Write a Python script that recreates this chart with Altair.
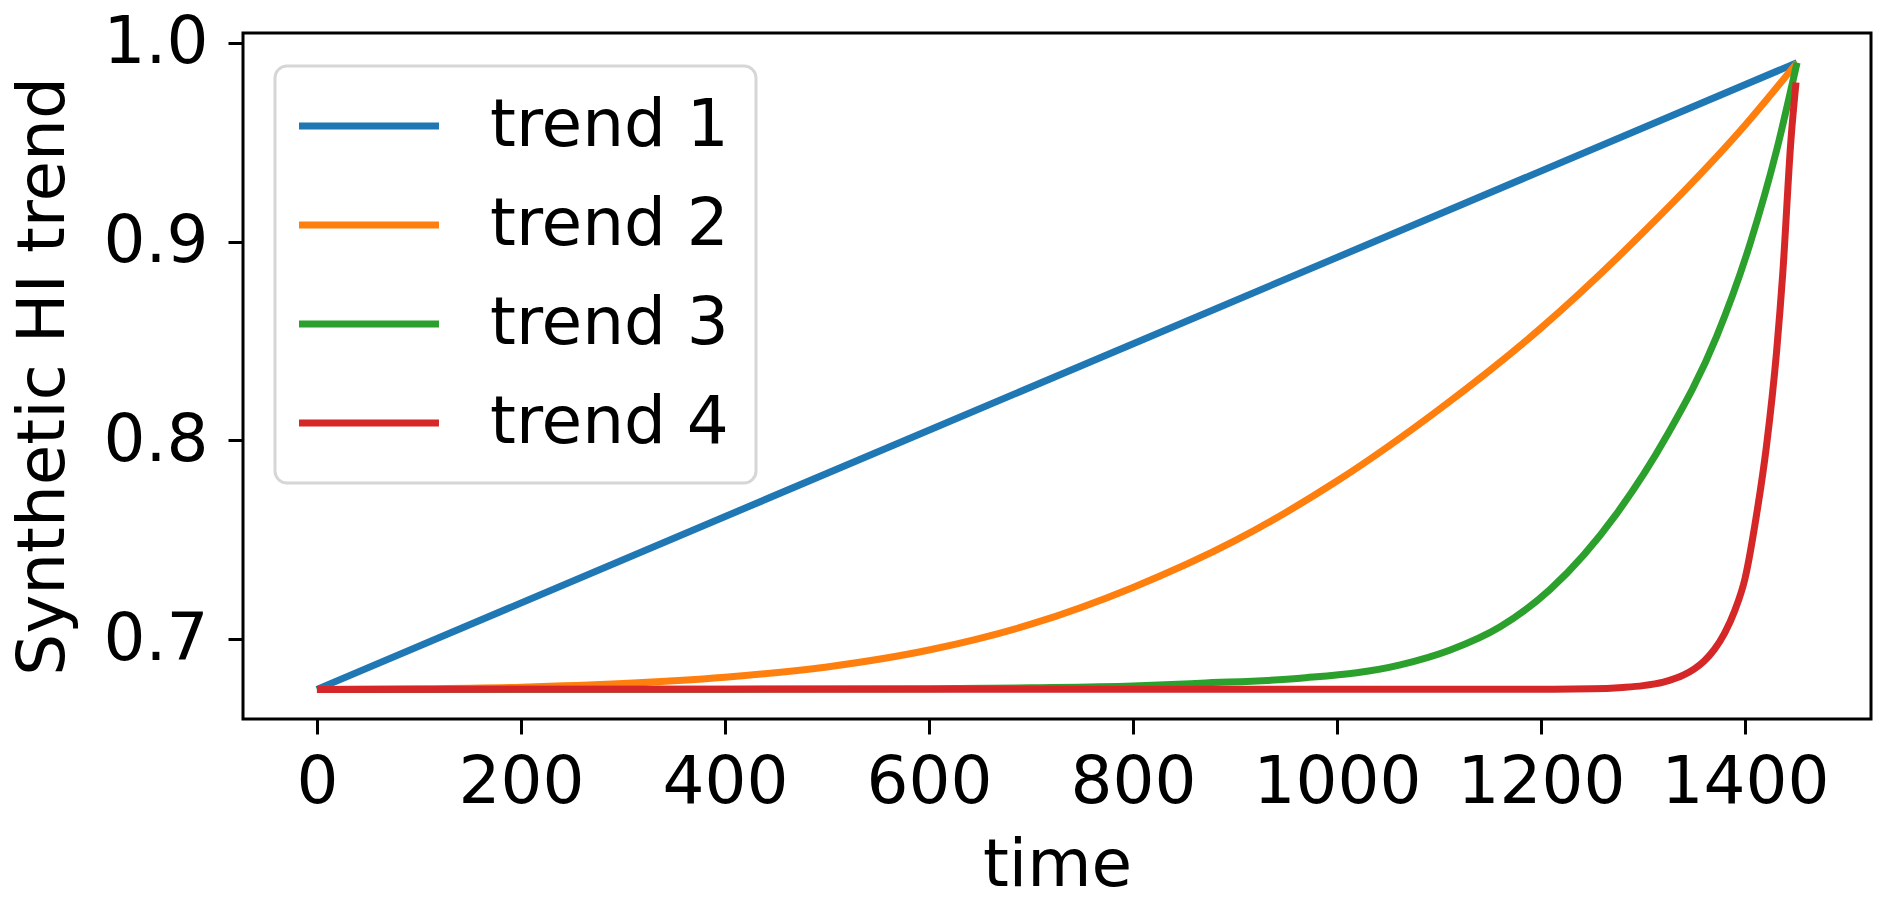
import altair as alt
import pandas as pd

# ---- data ----
series_names = ["trend 1", "trend 2", "trend 3", "trend 4"]
series_colors = ["#1f77b4", "#ff7f0e", "#2ca02c", "#d62728"]

t1 = [0, 1451]
v1 = [0.6747, 0.9900]

t2 = [0, 100, 200, 300, 400, 500, 600, 700, 800, 900, 1000, 1100, 1200,
      1300, 1400, 1451]
v2 = [0.6747, 0.6750, 0.6758, 0.6776, 0.6808, 0.6860, 0.6945, 0.7075,
      0.7260, 0.7495, 0.7795, 0.8155, 0.8565, 0.9045, 0.9585, 0.9900]

t3 = [0, 400, 600, 700, 800, 866, 964, 1062, 1111, 1160, 1209, 1274,
      1323, 1372, 1405, 1431, 1451]
v3 = [0.6747, 0.6748, 0.6750, 0.6755, 0.6764, 0.6778, 0.6803, 0.6870,
      0.6945, 0.7062, 0.7250, 0.7630, 0.8020, 0.8520, 0.8990, 0.9460, 0.9900]

t4 = [0, 1200, 1250, 1280, 1300, 1320, 1340, 1350, 1360, 1370, 1380, 1390,
      1400, 1411, 1421, 1431, 1437, 1445, 1450]
v4 = [0.6747, 0.6748, 0.6750, 0.6757, 0.6766, 0.6784, 0.6820, 0.6849,
      0.6890, 0.6948, 0.7030, 0.7144, 0.7305, 0.7616, 0.7970, 0.8450,
      0.8840, 0.9510, 0.9800]

x_ticks = [0, 200, 400, 600, 800, 1000, 1200, 1400]
y_ticks = [0.7, 0.8, 0.9, 1.0]

rows = []
for name, ts, vs in zip(series_names, [t1, t2, t3, t4], [v1, v2, v3, v4]):
    for i, (t, v) in enumerate(zip(ts, vs)):
        rows.append({"series": name, "time": t, "value": v, "order": i})
df = pd.DataFrame(rows)

FONT = "DejaVu Sans"
FS = 66

chart = (
    alt.Chart(df)
    .mark_line(strokeWidth=7, interpolate="monotone", strokeCap="butt")
    .encode(
        x=alt.X(
            "time:Q",
            scale=alt.Scale(domain=[-72.5, 1523.5], nice=False, zero=False),
            axis=alt.Axis(
                values=x_ticks, format="d", title="time", grid=False,
                domain=False,
                tickSize=15, tickWidth=3, tickColor="black",
                labelFontSize=FS, labelFont=FONT, labelColor="black",
                labelPadding=16, labelFlush=False, labelOverlap=False,
                labelLimit=400,
                titleFontSize=FS, titleFont=FONT, titleFontWeight="normal",
                titleColor="black", titlePadding=18,
            ),
        ),
        y=alt.Y(
            "value:Q",
            scale=alt.Scale(domain=[0.6598, 1.0049], nice=False, zero=False),
            axis=alt.Axis(
                values=y_ticks, format=".1f", title="Synthetic HI trend",
                grid=False, domain=False,
                tickSize=15, tickWidth=3, tickColor="black",
                labelFontSize=FS, labelFont=FONT, labelColor="black",
                labelPadding=20, labelFlush=False, labelOverlap=False,
                labelLimit=400,
                titleFontSize=FS, titleFont=FONT, titleFontWeight="normal",
                titleColor="black", titlePadding=26, titleLimit=1000,
            ),
        ),
        color=alt.Color(
            "series:N",
            scale=alt.Scale(domain=series_names, range=series_colors),
            legend=alt.Legend(
                title=None, orient="none", legendX=32, legendY=33,
                symbolType="M-2.4,0H2.4", symbolSize=3402,
                symbolStrokeWidth=7, symbolOffset=34,
                labelFontSize=FS, labelFont=FONT, labelColor="black",
                labelOffset=88, labelLimit=400, rowPadding=33, padding=27,
                strokeColor="#d6d6d6", cornerRadius=12,
                fillColor="rgba(255,255,255,0.8)",
            ),
        ),
        order="order:Q",
    )
    .properties(
        width=1628, height=686,
        background="white",
        autosize=alt.AutoSizeParams(type="none"),
        padding={"left": 235, "top": 25, "right": 13, "bottom": 183},
    )
    .configure_view(stroke="black", strokeWidth=3)
    .configure_legend(strokeWidth=3)
)

chart.save("out.html", embed_options={"renderer": "svg", "actions": False})
